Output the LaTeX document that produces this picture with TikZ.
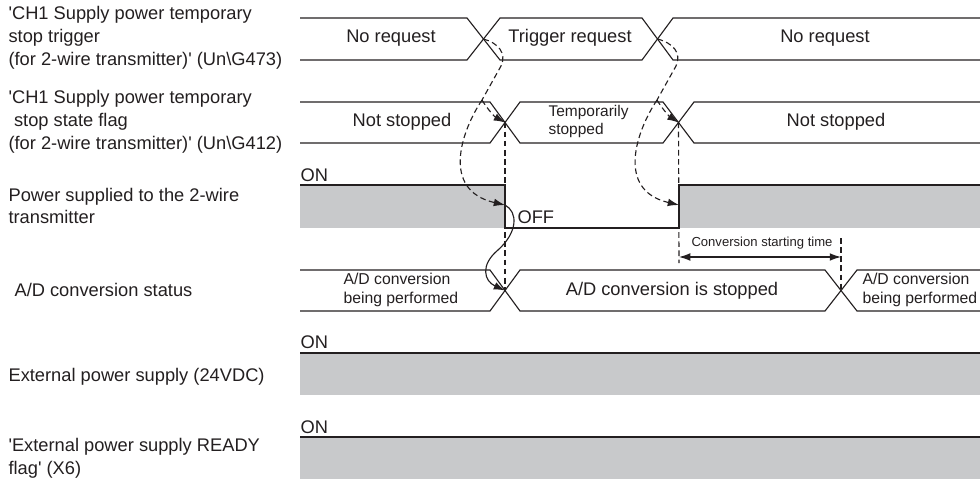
\documentclass[tikz,border=0pt]{standalone}
\usepackage{fontspec}
\setmainfont{Liberation Sans}
\usetikzlibrary{arrows.meta}

\definecolor{ink}{RGB}{35,31,32}
\definecolor{ongray}{RGB}{200,201,203}

\begin{document}
\begin{tikzpicture}[x=0.025cm, y=-0.025cm, line width=0.8pt, color=ink,
  every node/.style={font=\fontsize{13}{16.3}\selectfont, inner sep=0pt},
  lbl/.style={anchor=west, align=left},
  small/.style={anchor=west, align=left, font=\fontsize{11.2}{13.5}\selectfont},
  tip/.style={-{Latex[length=8pt,width=5.5pt]}},
  dsh/.style={dash pattern=on 4pt off 2.5pt}]

\useasboundingbox (0,0) rectangle (980,481);

\node[lbl] (L1) at (8,38) {\textquotesingle CH1 Supply power temporary\\stop trigger\\(for 2-wire transmitter)\textquotesingle\ (Un\textbackslash G473)};

\node[lbl] (L2) at (8,122) {\textquotesingle CH1 Supply power temporary\\\hspace*{0.3em}stop state flag\\(for 2-wire transmitter)\textquotesingle\ (Un\textbackslash G412)};

\node[lbl] (L3) at (8,206) {Power supplied to the 2-wire\\transmitter};

\node[lbl] (L4) at (14,290) {A/D conversion status};

\node[lbl] (L5) at (8,377) {External power supply (24VDC)};

\node[lbl] (L6) at (8,458) {\textquotesingle External power supply READY\\flag\textquotesingle\ (X6)};

\coordinate (T1) at (483.5,39);

\coordinate (T2) at (657.5,39);

\coordinate (F1) at (505,122.5);

\coordinate (F2) at (678.5,122.5);

\coordinate (P1) at (505,205);

\coordinate (P2) at (679,205);

\coordinate (A1) at (505,290.5);

\coordinate (A2) at (841,290.5);

\coordinate (K1) at (482,100);

\coordinate (K2) at (657,100);

\coordinate (S1) at (679,257);

\coordinate (S2) at (841,257);

\coordinate (S1b) at (679,263);

\coordinate (S2t) at (841,238);

\draw (300,18) -- (467,18) -- (500,60) -- (642,60) -- (673,18) -- (980,18);
\draw (300,60) -- (467,60) -- (500,18) -- (642,18) -- (673,60) -- (980,60);

\draw (300,102) -- (490,102) -- (520,143) -- (663,143) -- (694,102) -- (980,102);
\draw (300,143) -- (490,143) -- (520,102) -- (663,102) -- (694,143) -- (980,143);

\fill[ongray] (300,185) rectangle (505,228);
\fill[ongray] (679,185) rectangle (980,228);
\draw (300,185) -- (505,185) -- (505,228) -- (679,228) -- (679,185) -- (980,185);

\draw (300,270) -- (490,270) -- (520,311) -- (825,311) -- (857,270) -- (980,270);
\draw (300,311) -- (490,311) -- (520,270) -- (825,270) -- (857,311) -- (980,311);

\fill[ongray] (300,353) rectangle (980,395);
\draw (300,353) -- (980,353);

\fill[ongray] (300,437) rectangle (980,479);
\draw (300,437) -- (980,437);

\node (N1) at (391,38) {No request};

\node (N2) at (570,38) {Trigger request};

\node (N3) at (825,38) {No request};

\node (S1t) at (402,122) {Not stopped};

\node[small, font=\fontsize{11}{12.8}\selectfont] (S2x) at (548,121) {Temporarily\\stopped};

\node (S3t) at (836,122) {Not stopped};

\node[anchor=west] (on3) at (300,175) {ON};

\node[anchor=west] (off3) at (517,217) {OFF};

\node[small] (C1) at (343,290) {A/D conversion\\being performed};

\node (C2) at (672,291) {A/D conversion is stopped};

\node[small] (C3) at (862,290) {A/D conversion\\being performed};

\node[anchor=west] (on5) at (300,342) {ON};

\node[anchor=west] (on6) at (300,427) {ON};

\node[font=\fontsize{9.3}{11}\selectfont] (CST) at (762,243) {Conversion starting time};

\draw[dsh] (T1) .. controls (498,43) and (507,53) .. (501,66) -- (K1);
\draw[dsh, tip] (K1) .. controls (488,110) and (495,117) .. (F1);
\draw[dsh, tip] (K1) .. controls (462,130) and (440,190) .. (P1);

\draw[dsh] (T2) .. controls (673,43) and (682,53) .. (676,66) -- (K2);
\draw[dsh, tip] (K2) .. controls (663,110) and (670,117) .. (F2);
\draw[dsh, tip] (K2) .. controls (637,130) and (615,190) .. (P2);

\draw[tip] (P1) .. controls (518,212) and (518,232) .. (498,250) .. controls (480,265) and (484,281) .. (A1);

\draw[dsh] (F1) -- (A1);
\draw[dsh] (F2) -- (S1b);
\draw[dsh] (S2t) -- (A2);
\draw[{Latex[length=8pt,width=5.5pt]}-{Latex[length=8pt,width=5.5pt]}] (S1) -- (S2);
\end{tikzpicture}
\end{document}
